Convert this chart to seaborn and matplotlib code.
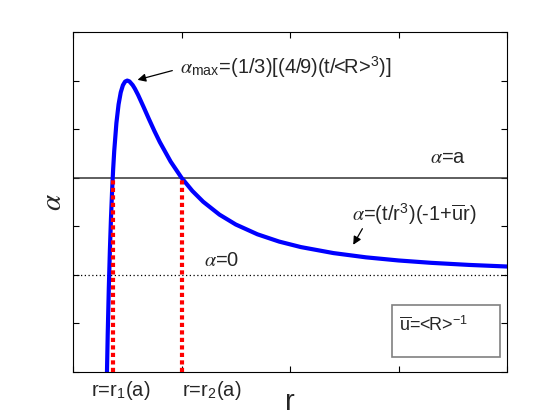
import matplotlib
matplotlib.use("Agg")
import matplotlib.pyplot as plt
import seaborn as sns
import pandas as pd
from matplotlib.patches import Rectangle

# data
r_vals = [0.31, 0.32, 0.33, 0.34, 0.35, 0.36, 0.37, 0.38, 0.40, 0.42, 0.44, 0.46,
          0.48, 0.50, 0.52, 0.55, 0.57, 0.60, 0.65, 0.70, 0.75, 0.80, 0.90, 1.00,
          1.10, 1.20, 1.35, 1.50, 1.70, 1.90, 2.10, 2.40, 2.70, 3.00, 3.30, 3.65, 4.00]
alpha_vals = [-2.35, -1.221, -0.278, 0.509, 1.166, 1.715, 2.172, 2.551, 3.125, 3.509, 3.757, 3.904,
              3.979, 4.0, 3.983, 3.907, 3.834, 3.704, 3.459, 3.207, 2.963, 2.734, 2.332, 2.0,
              1.728, 1.505, 1.240, 1.037, 0.835, 0.685, 0.572, 0.4485, 0.3607, 0.2963, 0.2477, 0.2046, 0.1719]
alpha_a = 2.0
alpha_zero = 0.0
r_cross = [0.366, 1.0]
x_ticks = [0, 1, 2, 3, 4]
y_ticks = [-2, -1, 0, 1, 2, 3, 4, 5]

df = pd.DataFrame({"r": r_vals, "alpha": alpha_vals})

sns.set_style("white")
plt.rcParams['font.family'] = ['Liberation Sans', 'DejaVu Sans']
plt.rcParams['mathtext.fontset'] = 'custom'
plt.rcParams['mathtext.rm'] = 'Liberation Sans'
plt.rcParams['mathtext.sf'] = 'Liberation Sans'
plt.rcParams['mathtext.it'] = 'STIXGeneral:italic'
plt.rcParams['mathtext.bf'] = 'Liberation Sans:bold'

fig = plt.figure(figsize=(5.6, 4.2), dpi=100)
ax = fig.add_axes([73/560, 48/420, 434/560, 340/420])

ax.axhline(alpha_a, color='#333333', lw=1.1, zorder=1)
ax.axhline(alpha_zero, color='black', lw=0.9, ls=(0, (1, 2)), zorder=1)
for rc in r_cross:
    ax.plot([rc, rc], [-2, alpha_a], color='red', lw=3, ls=(0, (1, 0.8)), zorder=3)

sns.lineplot(data=df, x="r", y="alpha", color=(0, 0, 1), lw=3, ax=ax, zorder=2, sort=False)

ax.set_xlim(0, 4)
ax.set_ylim(-2, 5)
ax.set_xticks(x_ticks)
ax.set_yticks(y_ticks)
ax.set_xticklabels([])
ax.set_yticklabels([])
ax.tick_params(direction='in', length=4, width=0.8, top=True, right=True, left=True, bottom=True,
               colors='black')
for s in ax.spines.values():
    s.set_color('black')
    s.set_linewidth(0.8)

ax.set_xlabel('r', fontsize=21, labelpad=8)
ax.set_ylabel(r'$\alpha$', fontsize=21, labelpad=1)

fs = 14.5
ax.text(3.29, 2.22, r'$\alpha$=a', fontsize=fs, ha='left', va='bottom')
ax.text(1.21, 0.10, r'$\alpha$=0', fontsize=fs, ha='left', va='bottom')
ax.text(2.57, 1.25, r'$\alpha$=(t/r$^3$)(-1+$\overline{\mathrm{u}}$r)', fontsize=fs, ha='left', va='center')
ax.annotate('', xy=(2.57, 0.57), xytext=(2.68, 1.0),
            arrowprops=dict(arrowstyle='-|>', color='black', lw=0.9, mutation_scale=12))
ax.text(0.99, 4.27, r'$\alpha_{\mathrm{max}}$=(1/3)[(4/9)(t/<R>$^3$)]', fontsize=fs, ha='left', va='center')
ax.annotate('', xy=(0.57, 4.0), xytext=(0.94, 4.22),
            arrowprops=dict(arrowstyle='-|>', color='black', lw=0.9, mutation_scale=12))

ax.add_patch(Rectangle(((392-73)/434, (372-357)/340), (500-392)/434, (357-305)/340,
                       transform=ax.transAxes, fill=False, edgecolor='#808080', lw=1.2, zorder=4))
ax.text((399-73)/434, (372-325)/340, r'$\overline{\mathrm{u}}$=<R>$^{-1}$', transform=ax.transAxes,
        fontsize=13, ha='left', va='center')

ax.text(0.44, -2.38, r'r=r$_1$(a)', fontsize=fs, ha='center', va='center', clip_on=False)
ax.text(1.28, -2.38, r'r=r$_2$(a)', fontsize=fs, ha='center', va='center', clip_on=False)

fig.savefig('out.png', dpi=100)
